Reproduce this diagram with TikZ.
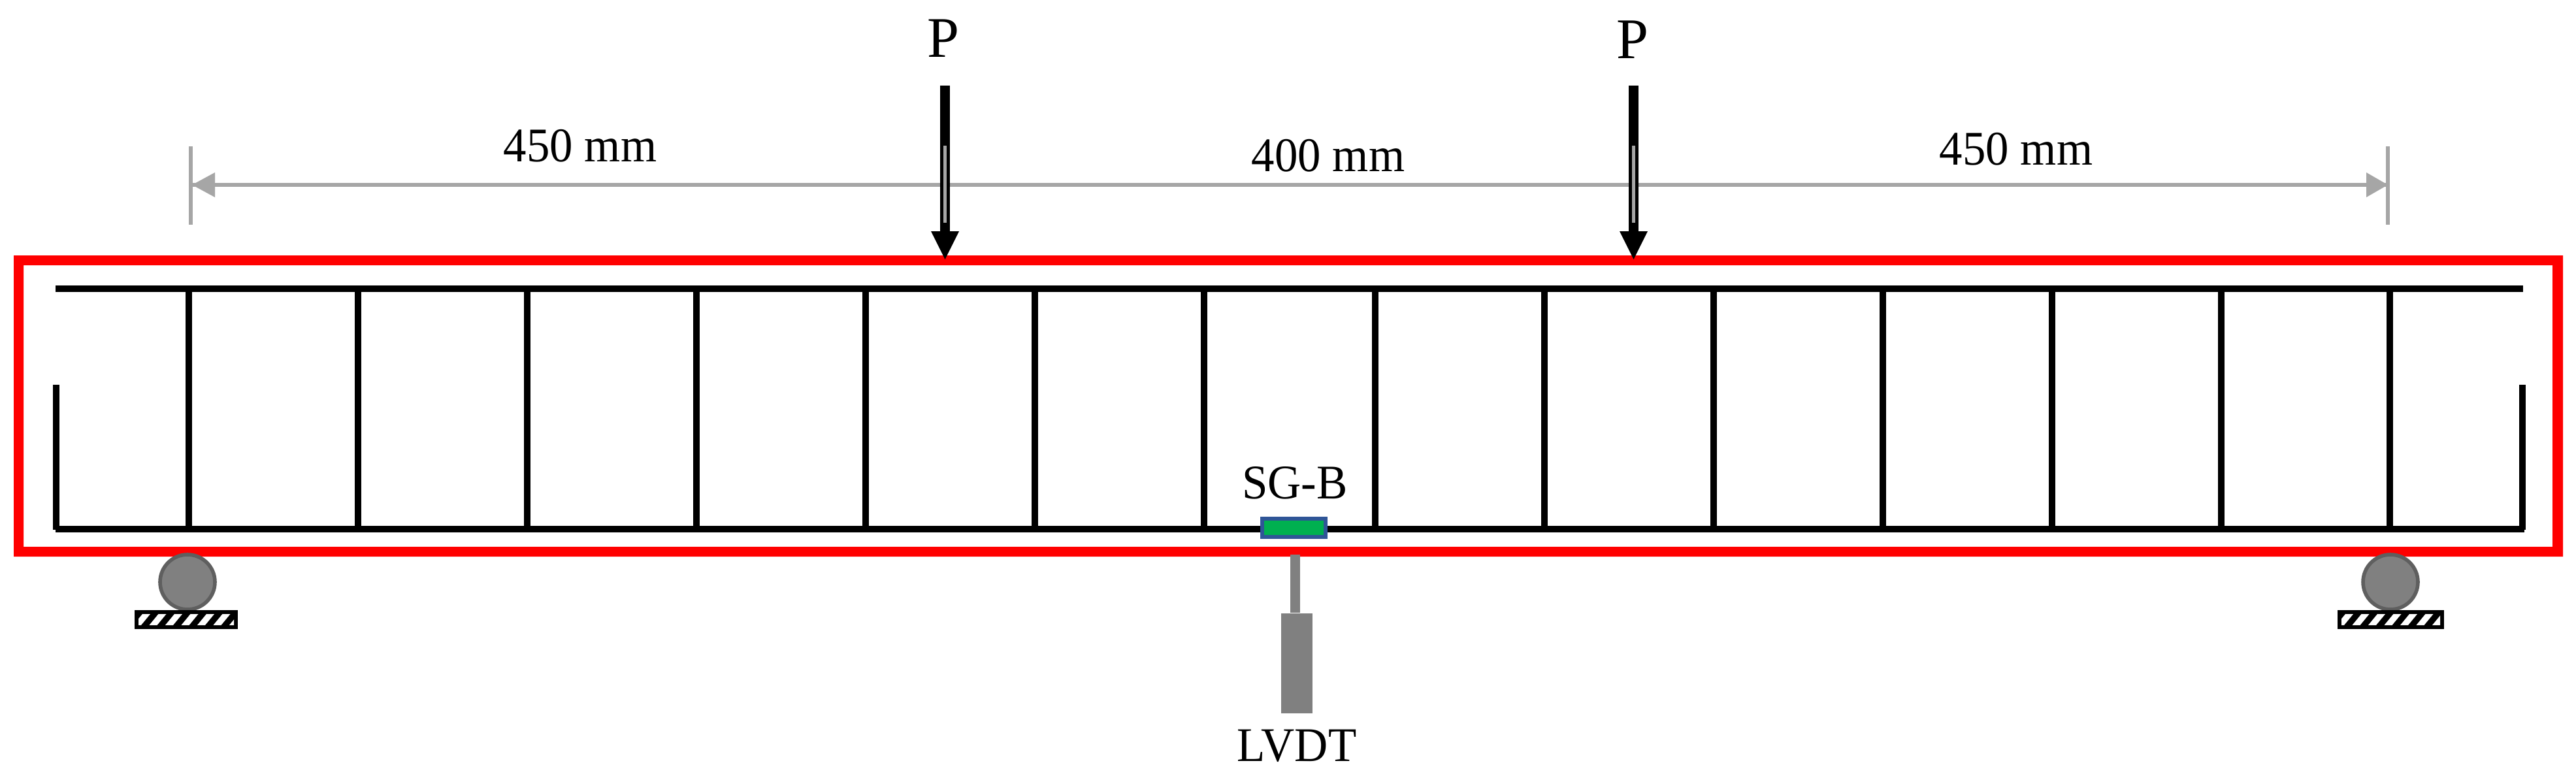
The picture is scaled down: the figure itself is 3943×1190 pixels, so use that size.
\documentclass[tikz,border=0pt]{standalone}
\usepackage{fontspec}
\setmainfont{Liberation Serif}
\definecolor{dimgray}{HTML}{A6A6A6}
\definecolor{lvdtgray}{HTML}{808080}
\definecolor{rimgray}{HTML}{5F5F5F}
\definecolor{sgblue}{HTML}{2F5597}
\definecolor{sggreen}{HTML}{00B050}
\tikzset{
  lab/.style={inner sep=0pt,font=\fontsize{18.5pt}{20pt}\selectfont,anchor=base,xscale=0.958,transform shape},
  plab/.style={inner sep=0pt,font=\fontsize{22pt}{24pt}\selectfont,anchor=base},
  bar/.style={fill=black,draw=none},
  roller/.style={fill=lvdtgray,draw=rimgray,line width=1.4pt},
  dimline/.style={draw=dimgray,line width=1.5pt},
  dimhead/.style={fill=dimgray,draw=none},
  lvdtpart/.style={fill=lvdtgray,draw=none}
}
\begin{document}
\begin{tikzpicture}[x=0.25pt,y=-0.25pt]
\useasboundingbox (0,0) rectangle (3943,1190);
% red outline
\fill[red,even odd rule] (21,391) rectangle (3923,852) (36,406) rectangle (3907,837);
% rebar
\fill[bar] (85,437) rectangle (3862,447);
\fill[bar] (85,805) rectangle (3864,815);
\fill[bar] (81,589) rectangle (91,811);
\fill[bar] (3856,589) rectangle (3866,811);
\foreach \xc in {289,548,807,1066,1325,1584,1843,2105,2364,2623,2882,3141,3400,3658}{
  \fill[bar] (\xc-5.25,447) rectangle (\xc+5.25,805);
}
% dimension
\coordinate (dl) at (292,283);
\coordinate (dr) at (3655,283);
\draw[dimline] (292,224) -- (292,344);
\draw[dimline] (3655,224) -- (3655,344);
\draw[dimline] (dl) -- (dr);
\fill[dimhead] (294,283) -- (329,264) -- (329,302) -- cycle;
\fill[dimhead] (3655,283) -- (3622,264) -- (3622,302) -- cycle;
\node[lab] (d1) at (888,247) {450 mm};
\node[lab] (d2) at (2033,262) {400 mm};
\node[lab] (d3) at (3086,252) {450 mm};
% loads
\foreach \n/\xc/\px/\py in {a/1446.5/1444/87,b/2500.5/2499/89}{
  \node[plab] (P\n) at (\px,\py) {P};
  \fill[black] (\xc-7.5,131) rectangle (\xc+7.5,354);
  \fill[black] (\xc-21.5,354) -- (\xc+21.5,354) -- (\xc,397) -- cycle;
  \fill[dimgray] (\xc-2.5,223) rectangle (\xc+2.5,341);
}
% strain gauge
\node[lab] (sg) at (1982,763) {SG-B};
\fill[sgblue] (1929,791) rectangle (2032,825);
\fill[sggreen] (1935,797) rectangle (2026,819);
% lvdt
\fill[lvdtpart] (1975,849) rectangle (1990,938);
\fill[lvdtpart] (1961,939) rectangle (2009,1092);
\node[lab] (lv) at (1985,1165) {LVDT};
% supports
\foreach \xc/\bl/\br in {287/206/364,3659/3578/3741}{
  \draw[roller] (\xc,891) circle[radius=42];
  \fill[black] (\bl,934) rectangle (\br,963);
  \begin{scope}
    \clip (\bl+6,940) rectangle (\br-6,957);
    \foreach \k in {0,...,6}{
      \fill[white] (\bl+\k*24.5-2,957) -- (\bl+\k*24.5+10,957) -- (\bl+\k*24.5+24,940) -- (\bl+\k*24.5+12,940) -- cycle;
    }
  \end{scope}
}
\end{tikzpicture}
\end{document}
